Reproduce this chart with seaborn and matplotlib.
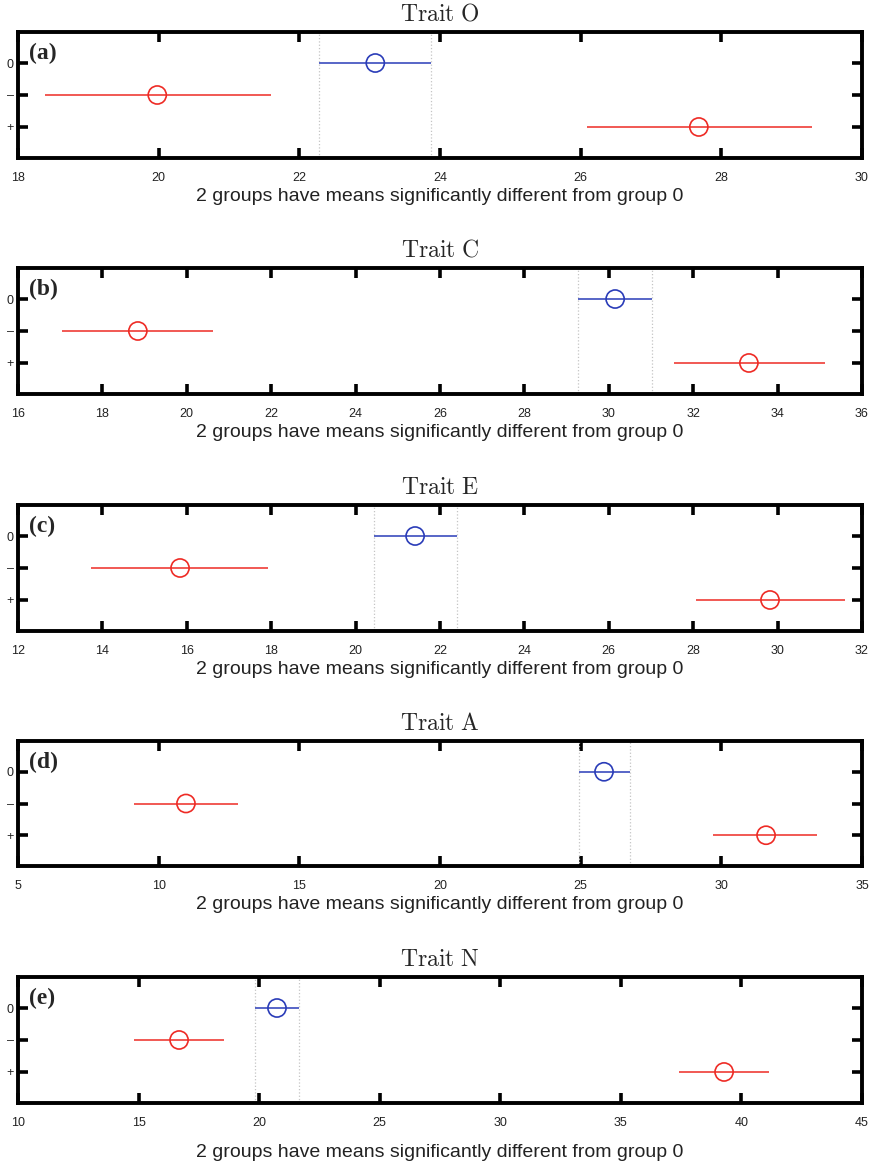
import matplotlib
matplotlib.use("Agg")
import matplotlib.pyplot as plt
import seaborn as sns
import numpy as np
import pandas as pd

# ---- data ----
traits = ["O", "C", "E", "A", "N"]
panel_labels = ["(a)", "(b)", "(c)", "(d)", "(e)"]
group_labels = ["0", "\u2013", "+"]
xlims = [(18, 30), (16, 36), (12, 32), (5, 35), (10, 45)]
xtick_steps = [2, 2, 2, 5, 5]

means_0 = [23.08, 30.15, 21.41, 25.83, 20.74]
lo_0 = [22.28, 29.27, 20.44, 24.94, 19.83]
hi_0 = [23.87, 31.02, 22.40, 26.76, 21.65]

means_minus = [19.98, 18.84, 15.84, 10.97, 16.68]
lo_minus = [18.38, 17.04, 13.73, 9.12, 14.81]
hi_minus = [21.60, 20.62, 17.92, 12.82, 18.56]

means_plus = [27.68, 33.32, 29.82, 31.59, 39.28]
lo_plus = [26.09, 31.55, 28.07, 29.71, 37.42]
hi_plus = [29.29, 35.12, 31.60, 33.40, 41.15]

xlabel_text = "2 groups have means significantly different from group 0"

RED = "#ee2b25"
BLUE = "#2a3cb8"

sns.set_theme(style="white")
plt.rcParams["font.family"] = ["Liberation Sans", "DejaVu Sans"]
plt.rcParams["mathtext.fontset"] = "cm"

W, H = 879, 1164
fig = plt.figure(figsize=(W / 100, H / 100), dpi=100)

tops = [32, 268, 505, 741, 977]
bottoms = [158, 394, 631, 866, 1103]
left_px, right_px = 18, 862

for i in range(5):
    ax = fig.add_axes([left_px / W, 1 - bottoms[i] / H,
                       (right_px - left_px) / W, (bottoms[i] - tops[i]) / H])
    df = pd.DataFrame({
        "group": group_labels,
        "pos": [1, 2, 3],
        "mean": [means_0[i], means_minus[i], means_plus[i]],
        "lo": [lo_0[i], lo_minus[i], lo_plus[i]],
        "hi": [hi_0[i], hi_minus[i], hi_plus[i]],
        "col": [BLUE, RED, RED],
    })
    # dotted band at the control group's interval
    for xv in (df["lo"].iloc[0], df["hi"].iloc[0]):
        ax.axvline(xv, color="#c4c4c4", ls=":", lw=0.9, zorder=1)
    ax.hlines(df["pos"], df["lo"], df["hi"], colors=df["col"], lw=1.1, zorder=2)
    sns.scatterplot(data=df, x="mean", y="pos", hue="group",
                    palette={g: c for g, c in zip(df["group"], df["col"])},
                    marker="o", s=170, linewidth=1.2,
                    legend=False, ax=ax, zorder=3)
    coll = ax.collections[-1]
    coll.set_facecolor("none")
    coll.set_edgecolor(list(df["col"]))

    ax.set_xlim(*xlims[i])
    ax.set_ylim(3.97, 0.03)
    ax.set_yticks([1, 2, 3])
    ax.set_yticklabels(group_labels, fontsize=9)
    xt = np.arange(xlims[i][0], xlims[i][1] + 0.01, xtick_steps[i])
    ax.set_xticks(xt)
    ax.set_xticklabels([f"{int(v)}" for v in xt], fontsize=9)
    ax.tick_params(axis="both", direction="in", length=7, width=2.6,
                   top=True, right=True, bottom=True, left=True,
                   color="black", labelcolor="#222222")
    ax.tick_params(axis="x", pad=10)
    ax.tick_params(axis="y", pad=3)
    for sp in ax.spines.values():
        sp.set_linewidth(2.8)
        sp.set_color("black")
        sp.set_visible(True)
    ax.set_ylabel("")
    ax.set_xlabel(xlabel_text, fontsize=14, color="#222222",
                  labelpad=(3 if i < 4 else 11))
    ax.set_title(r"$\mathrm{Trait\ " + traits[i] + r"}$", fontsize=17, pad=8)
    ax.text(0.013, 0.915, panel_labels[i], transform=ax.transAxes,
            fontsize=17, fontweight="bold", family="Liberation Serif",
            va="top", ha="left")

fig.savefig("out.png", dpi=100)
